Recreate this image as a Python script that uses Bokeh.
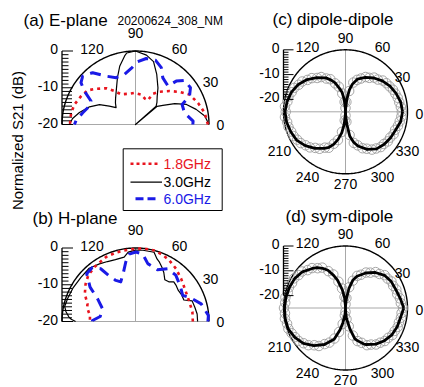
import numpy as np
from bokeh.plotting import figure
from bokeh.models import Range1d, Label
from bokeh.core.properties import value
from bokeh.embed import file_html
from bokeh.resources import INLINE

FONT = "Liberation Sans"

# ------------------------------------------------------------------ data
# (a) E-plane, angle (deg) / normalized S21 (dB)
ea_black_ang = [0, 7, 14, 21.5, 28, 35, 40, 41, 41.5, 46, 52.5, 58.5, 67, 74, 81, 90, 97, 99, 105, 111, 120, 127, 133, 139, 145, 151, 159, 168, 174.5, 180]
ea_black_db = [0, -1, -3, -5.1, -7.9, -10.9, -12.3, -25, -12.5, -11.6, -10.3, -8.3, -5.2, -2.2, -0.9, 0, -0.4, -1.1, -3.5, -6.3, -9.5, -11, -12, -13, -11.3, -8.8, -6.6, -4.4, -2.8, -2.0]
ea_red_ang = [0, 9.5, 19, 29, 36.5, 44.5, 53.5, 60.5, 63, 70, 79, 92, 104, 115.5, 122, 129, 138, 144.5, 152.5, 162, 170, 178, 180]
ea_red_db = [-0.3, -0.9, -2.0, -3.2, -5.1, -7.0, -8.9, -10.4, -12.6, -12.5, -11.7, -11.4, -11.4, -10.9, -9.3, -7.3, -5.5, -4.0, -3.3, -2.5, -2.2, -2.2, -2.2]
ea_blue_ang = [0, 3.3, 13.4, 23.2, 27.7, 33.8, 41.9, 46.8, 49.8, 59.6, 65.6, 72.6, 80.8, 87.9, 94.4, 102.4, 112.5, 121.3, 129.6, 137.5, 142.5, 146.8, 152.2, 158.3, 167.5, 176, 180]
ea_blue_db = [-4.4, -4.3, -6.3, -6.2, -3.4, -2.0, -2.0, -3.8, -6.3, -5.3, -3.0, -1.7, -1.8, -2.9, -4.7, -6.0, -6.2, -4.6, -1.7, -0.5, -1.3, -3.4, -6.3, -6.5, -5.3, -3.8, -3.4]

# (b) H-plane
hb_black_ang = [0, 7, 13.5, 20, 24, 30, 36, 42, 46, 50, 55, 60, 64, 68, 71, 75, 84, 90, 96, 100, 108, 115, 122, 131, 141, 152, 161, 168, 172, 176, 178, 180]
hb_black_db = [-3.1, -3.1, -3.4, -3.6, -5.6, -5.5, -5.6, -5.2, -5.0, -5.9, -6.1, -4.6, -3.6, -2.6, -2.0, -0.5, -0.5, -0.6, -1.0, -2.2, -2.3, -2.0, -1.5, -0.8, -0.9, -0.7, -0.5, -0.3, -0.9, -1.8, -2.5, -3.7]
hb_red_ang = [0, 9.5, 19.5, 33.5, 43, 52.5, 61, 68, 76, 84, 90, 99, 106, 114.5, 121, 126, 135.5, 143, 147, 151.5, 160, 164, 172.5, 179, 180]
hb_red_db = [-4.4, -4.3, -4.4, -3.9, -3.0, -1.9, -1.0, -0.4, 0, 0, -0.2, -0.4, -0.5, -0.7, -1.2, -1.4, -2.0, -3.0, -3.7, -4.3, -6.1, -6.3, -7.5, -7.6, -7.6]
hb_blue_ang = [0, 4.7, 15, 23, 29, 39, 49, 58.7, 67, 78, 84, 89.7, 95.4, 99.3, 103.7, 110.4, 115.6, 120.2, 123.4, 128.7, 135.6, 142.9, 149.2, 159, 172, 178.7, 180]
hb_blue_db = [-0.3, -0.1, -1.5, -3.6, -5.3, -4.4, -3.3, -3.2, -4.7, -3.9, -1.5, -1.1, -1.6, -3.6, -6.2, -8.5, -7.6, -5.5, -2.8, -1.2, -1.4, -4.5, -8.0, -10.4, -10.3, -8.3, -8.3]

# (c) dipole-dipole: simulated line + measured markers
cd_line_ang = [0, 10, 20, 30, 40, 50, 60, 70, 76, 80, 84, 87, 90, 93, 96, 100, 105, 110, 115, 120, 130, 140, 150, 160, 170, 180,
               190, 200, 210, 220, 230, 240, 245, 250, 255, 260, 264, 267, 270, 273, 276, 280, 285, 290, 300, 310, 320, 330, 340, 350, 360]
cd_line_db = [-2.0, -2.4, -3.3, -4.3, -5.6, -7.2, -9.0, -11.0, -13.5, -16, -20, -23.5, -25, -23.5, -20, -17, -15, -12.5, -10.8, -9.2, -7.0, -4.8, -3.0, -1.8, -1.1, -0.6,
              -0.9, -1.5, -2.2, -3.8, -5.8, -8.0, -9.2, -11, -13.5, -16.5, -20, -23.5, -25, -23.5, -20, -15, -12.3, -10.3, -7.5, -5.5, -4.6, -4.0, -3.5, -2.4, -2.0]
marker_ang = list(range(0, 360, 5))
cd_mark_db = [-2.3, -2.6, -3.0, -3.2, -3.6, -3.9, -4.5, -4.9, -5.4, -6.6, -7.0, -8.3, -8.8, -10.2, -11.3, -12.8, -16.5, -21.0,
              -23.5, -21.0, -17.5, -14.5, -12.8, -10.5, -9.5, -7.9, -7.2, -5.8, -5.0, -3.7, -3.2, -2.2, -1.9, -1.2, -1.2, -0.5,
              -0.9, -0.5, -1.1, -1.2, -1.7, -1.9, -2.5, -3.0, -4.0, -4.7, -6.0, -6.8, -8.3, -9.0, -11.3, -13.2, -16.8, -21.5,
              -23.5, -21.0, -15.5, -12.0, -10.6, -8.8, -7.8, -6.4, -5.7, -4.9, -4.8, -4.2, -4.2, -3.6, -3.7, -3.1, -2.8, -2.4]

# (d) sym-dipole
sd_line_ang = [0, 10, 20, 30, 40, 50, 60, 70, 75, 80, 85, 88, 90, 92, 95, 100, 106, 110, 115, 120, 125, 130, 140, 150, 160, 170, 180,
               190, 200, 210, 220, 230, 240, 250, 256, 260, 265, 268, 270, 272, 275, 282, 287, 290, 297, 300, 310, 320, 330, 340, 350, 360]
sd_line_db = [-1.5, -2.6, -3.4, -3.7, -4.5, -6.3, -8.7, -11.4, -13.3, -17, -21.5, -24, -25, -24, -21, -17.5, -13.3, -11, -8.2, -6.5, -5.1, -4.2, -2.3, -1.3, -0.9, -0.6, -0.4,
              -0.3, -0.4, -1.4, -2.8, -5.2, -8.0, -11.6, -16, -19, -22, -24, -25, -24, -21, -16.3, -12, -11, -8.7, -8, -6, -4.5, -3.4, -2.8, -2.5, -1.5]
sd_mark_db = [-1.8, -2.6, -2.7, -3.4, -3.2, -3.8, -3.6, -4.3, -4.4, -5.6, -6.1, -7.6, -8.5, -10.2, -11.2, -13.6, -16.5, -21.0,
              -23.5, -20.5, -17.0, -14.0, -10.6, -8.6, -6.2, -5.4, -4.0, -3.4, -2.1, -1.9, -1.1, -1.2, -0.7, -0.9, -0.4, -0.6,
              -0.2, -0.5, -0.2, -0.6, -0.5, -1.0, -1.5, -1.9, -2.9, -3.8, -5.4, -6.3, -8.2, -9.6, -11.9, -15.0, -18.5, -22.0,
              -23.5, -20.5, -17.5, -13.5, -10.8, -9.5, -7.7, -7.0, -5.8, -5.2, -4.3, -4.0, -3.2, -3.1, -2.6, -2.7, -2.3, -2.3]

half_angle_labels = ["0", "30", "60", "90", "120"]
full_angle_labels = ["0", "30", "60", "90", "120", "210", "240", "270", "300", "330"]
radial_labels = ["0", "-10", "-20"]
radial_label_values = [0, -10, -20]
legend_names = ["1.8GHz", "3.0GHz", "6.0GHz"]
legend_colors = ["#e8141e", "black", "#1a1ae6"]

# ------------------------------------------------------------------ figure
# the page is rendered flush with the window's top-left corner, so one data
# unit = one window pixel with these ranges
W, H = 424, 387
p = figure(width=W, height=H, x_range=Range1d(0, W), y_range=Range1d(H, 0),
           output_backend="svg", toolbar_location=None, min_border=0,
           x_axis_type=None, y_axis_type=None)
p.grid.visible = False
p.outline_line_color = None
p.background_fill_color = "white"
p.border_fill_color = "white"

GRID = "#a8a8a8"
RED, BLUE = legend_colors[0], legend_colors[2]


def to_xy(cx, cy, R, rmin, ang, db):
    a = np.radians(np.asarray(ang, float))
    f = np.clip((np.asarray(db, float) - rmin) / (-rmin), 0, None)
    return cx + R * f * np.cos(a), cy - R * f * np.sin(a)


def put_text(xs, ys, texts, size, align="center", color="black"):
    p.text(x=list(xs), y=list(ys), text=list(texts), text_font=value(FONT),
           text_font_size=value(size), text_align=align, text_baseline="middle",
           text_color=color)


def radial_axis(cx, cy, R, rmin, minor_short, minor_long, major):
    ax = cx - R
    y_of = lambda d: cy - R * (d - rmin) / (-rmin)
    p.segment(x0=[ax], y0=[y_of(0)], x1=[ax], y1=[y_of(-20)], line_color="black", line_width=1.3)
    vals = np.arange(0, -21, -1)
    x1 = []
    for d in vals:
        if d % 10 == 0:
            x1.append(ax + major)
        elif d > -10:
            x1.append(ax + minor_short)
        else:
            x1.append(ax + minor_long)
    ys = [y_of(d) for d in vals]
    p.segment(x0=[ax] * len(vals), y0=ys, x1=x1, y1=ys, line_color="black", line_width=1)
    put_text([ax - 4] * 3, [y_of(v) - 2 for v in radial_label_values], radial_labels, "14px", align="right")


def half_panel(cx, cy, R, curves):
    t = np.linspace(0, np.pi, 181)
    p.segment(x0=[cx - R, cx], y0=[cy, cy], x1=[cx + R, cx], y1=[cy, cy - R], line_color=GRID, line_width=1)
    p.line(cx + R * np.cos(t), cy - R * np.sin(t), line_color="black", line_width=1.4)
    radial_axis(cx, cy, R, -20, 6.5, 10, 11)
    for ang, db, color, width, dash in curves:
        x, y = to_xy(cx, cy, R, -20, ang, db)
        p.line(x, y, line_color=color, line_width=width, line_dash=dash, line_join="round")
    offs = {"0": (85, 0), "30": (75, -43), "60": (44, -75.5), "90": (0, -92), "120": (-43.5, -75.5)}
    put_text([cx + offs[k][0] for k in half_angle_labels], [cy + offs[k][1] for k in half_angle_labels],
             half_angle_labels, "14px")


def full_panel(cx, cy, R, line_ang, line_db, mark_db):
    t = np.linspace(0, 2 * np.pi, 361)
    p.segment(x0=[cx - R, cx], y0=[cy, cy - R], x1=[cx + R, cx], y1=[cy, cy + R], line_color=GRID, line_width=1)
    p.line(cx + R * np.cos(t), cy - R * np.sin(t), line_color="black", line_width=1.4)
    mx, my = to_xy(cx, cy, R, -25, marker_ang, mark_db)
    p.scatter(mx, my, marker="circle", size=9.5, fill_color=None, line_color="#9c9c9c", line_width=0.9)
    lx, ly = to_xy(cx, cy, R, -25, line_ang, line_db)
    p.line(lx, ly, line_color="black", line_width=2.8, line_join="round")
    radial_axis(cx, cy, R, -25, 5, 5, 10)
    offs = {"0": (74, 2), "30": (57, -35), "60": (37, -65), "90": (0, -74), "120": (-38, -65),
            "210": (-66, 39), "240": (-38, 65), "270": (0, 72), "300": (37, 65), "330": (62, 39)}
    put_text([cx + offs[k][0] for k in full_angle_labels], [cy + offs[k][1] for k in full_angle_labels],
             full_angle_labels, "14px")


RED_DASH, BLUE_DASH = "3 4", "11 7"

half_panel(135, 124, 73.5, [
    (ea_black_ang, ea_black_db, "black", 1.2, "solid"),
    (ea_red_ang, ea_red_db, RED, 2.6, RED_DASH),
    (ea_blue_ang, ea_blue_db, BLUE, 3.0, BLUE_DASH),
])
half_panel(135, 321, 73.5, [
    (hb_black_ang, hb_black_db, "black", 1.2, "solid"),
    (hb_red_ang, hb_red_db, RED, 2.6, RED_DASH),
    (hb_blue_ang, hb_blue_db, BLUE, 3.0, BLUE_DASH),
])
full_panel(345, 111.3, 62, cd_line_ang, cd_line_db, cd_mark_db)
full_panel(345, 307.5, 62, sd_line_ang, sd_line_db, sd_mark_db)

# legend
p.quad(left=[122.7], right=[221.7], top=[148.3], bottom=[210], fill_color="white", line_color="black", line_width=1)
leg_y = [163.3, 181.7, 198.3]
p.line([130, 160], [leg_y[0]] * 2, line_color=RED, line_width=2.6, line_dash="3 3")
p.line([130, 161.5], [leg_y[1]] * 2, line_color="black", line_width=1.2)
p.line([135, 155], [leg_y[2]] * 2, line_color=BLUE, line_width=3.0, line_dash="8 4")
for name, yy, col in zip(legend_names, leg_y, legend_colors):
    put_text([163], [yy], [name], "14px", align="left", color=col)

# titles
put_text([23], [20], ["(a) E-plane"], "17px", align="left")
put_text([117], [20], ["20200624_308_NM"], "12px", align="left")
put_text([32], [218], ["(b) H-plane"], "17px", align="left")
put_text([272], [18.5], ["(c) dipole-dipole"], "17px", align="left")
put_text([285], [215.5], ["(d) sym-dipole"], "17px", align="left")

p.add_layout(Label(x=17, y=140, text="Normalized S21 (dB)", angle=np.pi / 2,
                   text_align="center", text_baseline="middle",
                   text_font=FONT, text_font_size="15px", text_color="black"))

open("out.html", "w").write(file_html(p, INLINE))
